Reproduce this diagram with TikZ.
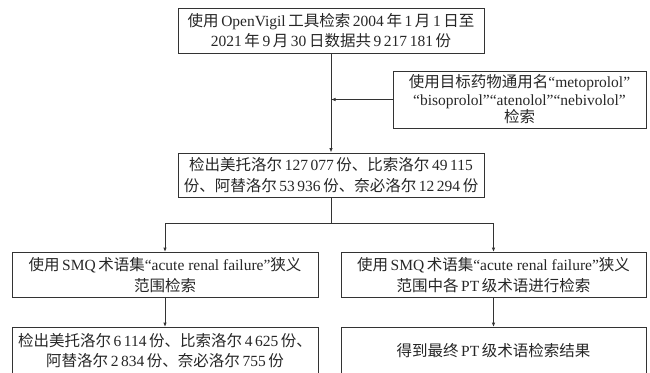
\documentclass[tikz,border=0pt]{standalone}
\usepackage{fontspec}
\setmainfont{Liberation Serif}
\newfontfamily\zhfont{Noto Sans CJK SC}
\newcommand{\zh}[1]{{\zhfont #1}}
\usetikzlibrary{arrows.meta}

\begin{document}
\begin{tikzpicture}[x=1pt,y=1pt,node distance=100pt]

\tikzstyle{blk} = [rectangle, draw=black!80, line width=0.9pt, text=black!85, align=center, inner sep=0pt, font=\fontsize{15.5}{20.5}\selectfont]
\tikzstyle{wd} = [blk, minimum width=306pt, minimum height=45pt]
\tikzstyle{note} = [blk, minimum width=253pt, minimum height=57pt, font=\fontsize{15.5}{17.5}\selectfont]
\tikzstyle{arr} = [draw=black!80, line width=0.9pt, -{Latex[length=4.5pt,width=3.5pt]}]
\useasboundingbox (0,0) rectangle (650,-372);

\node (src) [wd] at (331,-30.5) {\zh{使用}\,OpenVigil\,\zh{工具检索}\,2004\,\zh{年}\,1\,\zh{月}\,1\,\zh{日至}\\2021\,\zh{年}\,9\,\zh{月}\,30\,\zh{日数据共}\,9\,217\,181\,\zh{份}};
\node (drug) [note] at (519.5,-99.5) {\zh{使用目标药物通用名}“metoprolol”\\“bisoprolol”“atenolol”“nebivolol”\\\zh{检索}};
\node (found) [wd, below of=src, node distance=144.5pt, minimum height=44pt] {\zh{检出美托洛尔}\,127\,077\,\zh{份、比索洛尔}\,49\,115\\\zh{份、阿替洛尔}\,53\,936\,\zh{份、奈必洛尔}\,12\,294\,\zh{份}};
\node (smq) [wd, below of=found, xshift=-166pt] {\zh{使用}\,SMQ\,\zh{术语集}“acute renal failure”\zh{狭义}\\\zh{范围检索}};
\node (pt) [wd, below of=found, xshift=162.5pt, minimum width=305pt] {\zh{使用}\,SMQ\,\zh{术语集}“acute renal failure”\zh{狭义}\\\zh{范围中各}\,PT\,\zh{级术语进行检索}};
\node (res) [wd, below of=smq, node distance=75.5pt, minimum height=46pt] {\zh{检出美托洛尔}\,6\,114\,\zh{份、比索洛尔}\,4\,625\,\zh{份、}\\\zh{阿替洛尔}\,2\,834\,\zh{份、奈必洛尔}\,755\,\zh{份}};
\node (final) [wd, below of=pt, node distance=75.5pt, minimum width=305pt, minimum height=46pt] {\zh{得到最终}\,PT\,\zh{级术语检索结果}};
\coordinate (split) at ([yshift=-26pt]found.south);

\draw[arr] (src) -- (found);
\draw[arr] (drug.west) -- (drug.west -| src.south);
\draw[draw=black!80, line width=0.9pt] (found) -- (split);
\draw[arr] (split) -| (smq);
\draw[arr] (split) -| (pt);
\draw[arr] (smq) -- (res);
\draw[arr] (pt) -- (final);
\end{tikzpicture}
\end{document}
